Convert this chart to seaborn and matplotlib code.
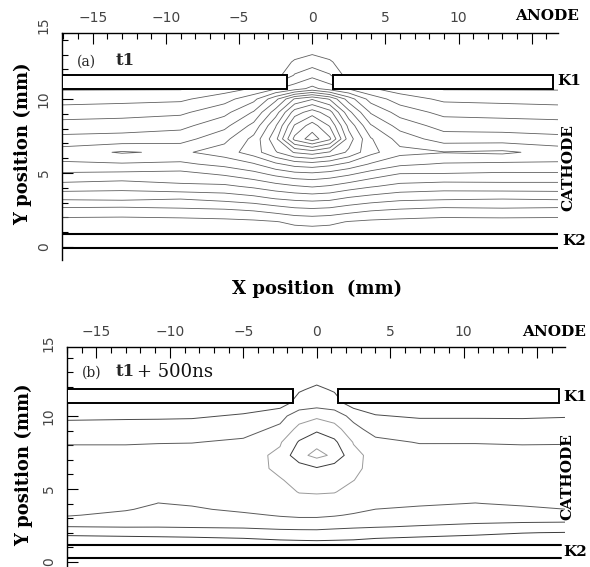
import numpy as np
import matplotlib
matplotlib.use("Agg")
import matplotlib.pyplot as plt
import seaborn as sns
from matplotlib.patches import Rectangle
from matplotlib.ticker import MultipleLocator

sns.set_theme(style="white")
plt.rcParams["font.family"] = ["DejaVu Sans"]
plt.rcParams["axes.unicode_minus"] = True

# ---------------- data ----------------
x_ticks = [-15, -10, -5, 0, 5, 10, 15]
x_tick_labels = ["\u221215", "\u221210", "\u22125", "0", "5", "10", ""]
y_ticks = [0, 5, 10, 15]
y_tick_labels = ["0", "5", "10", "15"]

# panel (a): sampled field (t1), columns listed by x position
xa = [-17.1, -13, -9, -6, -4, -2.5, -1.2, 0, 1.2, 2.5, 4, 6, 9, 13, 16.8]
ya = [0.9, 1.7, 2.5, 3.3, 4.1, 4.9, 5.6, 6.4, 7.3, 8.2, 9.1, 10.0, 10.7, 11.6, 12.5, 13.3]
za_cols = [
    [0, 0.1, 1.2, 2.7, 4.1, 5.3, 6.35, 7.0, 5.8, 4.9, 4.0, 3.1, 2.4, 2.0, 2.0, 2.0],
    [0, 0.1, 1.1, 2.8, 3.9, 5.2, 6.4, 7.6, 5.9, 5.0, 4.1, 3.2, 2.4, 2.0, 2.0, 2.0],
    [0, 0.1, 1.3, 2.6, 4.3, 5.1, 6.3, 7.3, 6.1, 5.2, 4.3, 3.3, 2.4, 2.0, 2.0, 2.0],
    [0, 0.2, 1.4, 2.9, 4.3, 5.6, 6.8, 8.0, 7.2, 6.2, 5.2, 4.1, 3.0, 2.0, 2.0, 2.0],
    [0, 0.3, 1.6, 3.2, 4.7, 6.1, 7.4, 9.0, 8.8, 7.8, 6.6, 5.2, 3.6, 2.0, 2.0, 2.0],
    [0, 0.45, 1.9, 3.6, 5.1, 6.7, 8.3, 10.4, 11.2, 10.4, 9.0, 7.2, 4.4, 2.0, 2.0, 2.0],
    [0, 0.7, 2.2, 3.8, 5.4, 7.1, 8.9, 11.6, 14.8, 13.6, 12.0, 9.6, 5.0, 3.6, 2.6, 2.1],
    [0, 0.8, 2.3, 3.9, 5.6, 7.2, 9.1, 12.0, 16.0, 15.0, 13.0, 10.4, 5.8, 4.2, 3.0, 2.2],
    [0, 0.7, 2.2, 3.8, 5.4, 7.0, 8.8, 11.4, 14.7, 13.4, 11.9, 9.4, 5.0, 3.6, 2.6, 2.1],
    [0, 0.45, 1.9, 3.4, 5.0, 6.6, 8.2, 10.3, 11.0, 10.2, 8.8, 7.0, 4.4, 2.0, 2.0, 2.0],
    [0, 0.3, 1.6, 3.1, 4.6, 6.0, 7.4, 8.8, 8.6, 7.6, 6.4, 5.1, 3.6, 2.0, 2.0, 2.0],
    [0, 0.2, 1.4, 2.8, 4.2, 5.4, 6.7, 7.8, 7.1, 6.1, 5.1, 4.0, 3.0, 2.0, 2.0, 2.0],
    [0, 0.1, 1.2, 2.7, 4.0, 5.4, 6.4, 7.55, 6.0, 5.1, 4.2, 3.3, 2.4, 2.0, 2.0, 2.0],
    [0, 0.1, 1.3, 2.6, 4.1, 5.3, 6.3, 7.7, 6.0, 5.0, 4.1, 3.2, 2.4, 2.0, 2.0, 2.0],
    [0, 0.1, 1.2, 2.7, 4.1, 5.3, 6.35, 7.1, 5.8, 4.9, 4.0, 3.1, 2.4, 2.0, 2.0, 2.0],
]
levels_a = [0.5, 1.5, 2.5, 3.5, 4.5, 5.5, 6.5, 7.5, 8.5, 9.5, 10.5, 11.5, 12.5, 13.5, 14.5, 15.5]

# panel (b): sampled field (t1 + 500 ns)
xb = [-17, -13, -10.8, -8.5, -5, -2.5, -1.2, 0, 1.2, 2.5, 4, 7, 10.8, 14, 16.9]
yb = [1.16, 1.6, 2.0, 2.4, 2.8, 3.2, 3.6, 4.0, 4.8, 5.6, 6.4, 7.3, 8.2, 9.1, 10.0, 10.9, 11.8, 12.6, 13.4]
zb_cols = [
    [0, 0.30, 0.70, 1.48, 2.07, 2.58, 2.90, 2.95, 3.0, 3.05, 3.05, 2.9, 2.4, 1.9, 1.3, 1.0, 0.8, 0.8, 0.8],
    [0, 0.32, 0.80, 1.54, 1.89, 2.24, 2.58, 2.90, 3.0, 3.05, 3.05, 2.9, 2.4, 1.9, 1.35, 1.0, 0.8, 0.8, 0.8],
    [0, 0.34, 0.86, 1.53, 1.77, 2.01, 2.26, 2.48, 2.9, 3.0, 3.05, 2.92, 2.45, 1.95, 1.35, 1.0, 0.8, 0.8, 0.8],
    [0, 0.37, 0.95, 1.57, 1.83, 2.10, 2.37, 2.60, 2.95, 3.05, 3.05, 2.93, 2.47, 1.97, 1.38, 1.0, 0.8, 0.8, 0.8],
    [0, 0.48, 1.08, 1.61, 1.97, 2.32, 2.70, 2.90, 3.0, 3.1, 3.15, 3.1, 2.65, 2.15, 1.6, 1.0, 0.8, 0.8, 0.8],
    [0, 0.64, 1.21, 1.72, 2.17, 2.58, 2.85, 2.97, 3.1, 3.45, 3.65, 3.7, 3.4, 2.7, 2.2, 1.0, 0.8, 0.8, 0.8],
    [0, 0.70, 1.23, 1.75, 2.25, 2.66, 2.95, 3.05, 3.55, 3.7, 3.95, 5.2, 4.6, 3.8, 3.0, 1.9, 1.4, 1.0, 0.8],
    [0, 0.75, 1.25, 1.75, 2.25, 2.66, 2.95, 3.05, 3.6, 3.9, 4.4, 5.8, 5.2, 4.3, 3.3, 2.0, 1.7, 1.2, 0.9],
    [0, 0.69, 1.19, 1.67, 2.11, 2.58, 2.90, 3.02, 3.55, 3.75, 4.0, 5.3, 4.7, 3.9, 3.0, 1.9, 1.4, 1.0, 0.8],
    [0, 0.63, 1.13, 1.60, 2.00, 2.40, 2.75, 2.95, 3.15, 3.52, 3.7, 3.75, 3.45, 2.8, 2.2, 1.0, 0.8, 0.8, 0.8],
    [0, 0.49, 1.03, 1.54, 1.86, 2.18, 2.49, 2.80, 2.95, 3.05, 3.2, 3.2, 2.75, 2.1, 1.55, 1.0, 0.8, 0.8, 0.8],
    [0, 0.37, 0.86, 1.43, 1.77, 2.07, 2.37, 2.60, 2.95, 3.05, 3.05, 2.92, 2.45, 1.95, 1.4, 1.0, 0.8, 0.8, 0.8],
    [0, 0.30, 0.65, 1.27, 1.67, 1.95, 2.22, 2.48, 2.9, 3.0, 3.05, 2.93, 2.45, 1.95, 1.4, 1.0, 0.8, 0.8, 0.8],
    [0, 0.26, 0.52, 1.12, 1.63, 1.98, 2.33, 2.62, 2.95, 3.05, 3.05, 2.9, 2.4, 1.9, 1.4, 1.0, 0.8, 0.8, 0.8],
    [0, 0.25, 0.47, 1.04, 1.61, 2.06, 2.49, 2.80, 2.95, 3.05, 3.05, 2.9, 2.42, 1.9, 1.45, 1.0, 0.8, 0.8, 0.8],
]
levels_b = [0.5, 1.5, 2.5, 3.5, 4.5, 5.5]

# electrode geometry (mm)
k1_a = {"bottom": 10.67, "top": 11.65, "slot_left": -1.75, "slot_right": 1.4, "right_end": 16.45}
k2_a = {"lines": [0.88, -0.05], "end": 16.8}
k1_b = {"bottom": 10.9, "top": 11.85, "slot_left": -1.6, "slot_right": 1.46, "right_end": 16.5}
k2_b = {"lines": [1.16, 0.27], "end": 16.6}

# ---------------- figure ----------------
W, H = 590, 567
fig = plt.figure(figsize=(W / 100, H / 100), dpi=100)


def fx(px):
    return px / W


def fy(py):
    return 1 - py / H


serif = ["DejaVu Serif"]


def draw_panel(ax, x, y, zcols, levels, colors, lws, k1, k2, xlim, ylim, spine_top):
    Z = np.array(zcols).T
    ax.contour(x, y, Z, levels=levels, colors=colors, linewidths=lws, zorder=2)
    ax.add_patch(Rectangle((xlim[0], k1["bottom"]), k1["slot_left"] - xlim[0],
                           k1["top"] - k1["bottom"], fc="white", ec="black", lw=1.4, zorder=4))
    ax.add_patch(Rectangle((k1["slot_right"], k1["bottom"]), k1["right_end"] - k1["slot_right"],
                           k1["top"] - k1["bottom"], fc="white", ec="black", lw=1.4, zorder=4))
    for yk in k2["lines"]:
        sns.lineplot(x=[xlim[0], k2["end"]], y=[yk, yk], color="black", lw=1.5, ax=ax, zorder=4)
    ax.set_xlim(*xlim)
    ax.set_ylim(*ylim)
    for s in ["right", "bottom"]:
        ax.spines[s].set_visible(False)
    for s in ["left", "top"]:
        ax.spines[s].set_visible(True)
        ax.spines[s].set_color("black")
        ax.spines[s].set_linewidth(1.0)
    ax.spines["top"].set_position(("data", spine_top))
    ax.spines["left"].set_bounds(ylim[0], spine_top)
    ax.xaxis.tick_top()
    ax.set_xticks(x_ticks, labels=x_tick_labels)
    ax.xaxis.set_minor_locator(MultipleLocator(1))
    ax.set_yticks(y_ticks, labels=y_tick_labels)
    ax.yaxis.set_minor_locator(MultipleLocator(1))
    ax.tick_params(axis="both", which="both", direction="in", color="black", width=0.8,
                   labelsize=10, labelcolor="#444444")
    ax.tick_params(axis="both", which="major", length=8)
    ax.tick_params(axis="both", which="minor", length=4)
    ax.tick_params(axis="x", which="both", top=True, bottom=False, pad=6)
    ax.tick_params(axis="y", which="both", left=True, right=False, pad=8, labelrotation=90)
    for lab in ax.get_yticklabels():
        lab.set_va("center")
    ax.yaxis.get_major_ticks()[-1].tick1line.set_visible(False)
    ax.set_xlabel("")
    ax.set_ylabel("")
    ax.set_facecolor("white")


# panel (a)
ax_a = fig.add_axes([fx(62), fy(260), fx(558) - fx(62), (260 - 25) / H])
draw_panel(ax_a, xa, ya, za_cols, levels_a, "#606060", 0.6, k1_a, k2_a,
           (-17.1, 16.8), (-0.88, 15.0), 14.46)

# panel (b)
ax_b = fig.add_axes([fx(67), fy(575), fx(565) - fx(67), (575 - 343) / H])
colors_b = ["#3a3a3a", "#4a4a4a", "#5a5a5a", "#9a9a9a", "#3a3a3a", "#9a9a9a"]
draw_panel(ax_b, xb, yb, zb_cols, levels_b, colors_b, 0.7, k1_b, k2_b,
           (-17.0, 16.9), (-0.9, 15.0), 14.73)

# axis titles
lab_kw = dict(family=serif, fontweight="bold", fontsize=13, color="black", ha="center", va="center")
fig.text(fx(23), fy(144), "Y position (mm)", rotation=90, **lab_kw)
fig.text(fx(24), fy(465), "Y position (mm)", rotation=90, **lab_kw)
fig.text(fx(317), fy(289), "X position  (mm)", **lab_kw)

# panel annotations
fig.text(fx(77), fy(62), "(a)", family=serif, fontsize=10, ha="left", va="center")
fig.text(fx(116), fy(61), "t1", family=serif, fontsize=12, fontweight="bold", ha="left", va="center")
fig.text(fx(82), fy(373), "(b)", family=serif, fontsize=10, ha="left", va="center")
fig.text(fx(116), fy(372), "t1", family=serif, fontsize=12, fontweight="bold", ha="left", va="center")
fig.text(fx(137), fy(372), "+ 500ns", family=serif, fontsize=13, color="#111111",
         ha="left", va="center")

# electrode labels
el_kw = dict(family=serif, fontweight="bold", fontsize=11, color="black")
fig.text(fx(579), fy(16), "ANODE", ha="right", va="center", **el_kw)
fig.text(fx(557), fy(81), "K1", ha="left", va="center", **el_kw)
fig.text(fx(568), fy(168), "CATHODE", rotation=90, ha="center", va="center", **el_kw)
fig.text(fx(562), fy(241), "K2", ha="left", va="center", **el_kw)

fig.text(fx(586), fy(332), "ANODE", ha="right", va="center", **el_kw)
fig.text(fx(563), fy(397), "K1", ha="left", va="center", **el_kw)
fig.text(fx(567), fy(477), "CATHODE", rotation=90, ha="center", va="center", **el_kw)
fig.text(fx(563), fy(552), "K2", ha="left", va="center", **el_kw)

fig.savefig("out.png", dpi=100)
